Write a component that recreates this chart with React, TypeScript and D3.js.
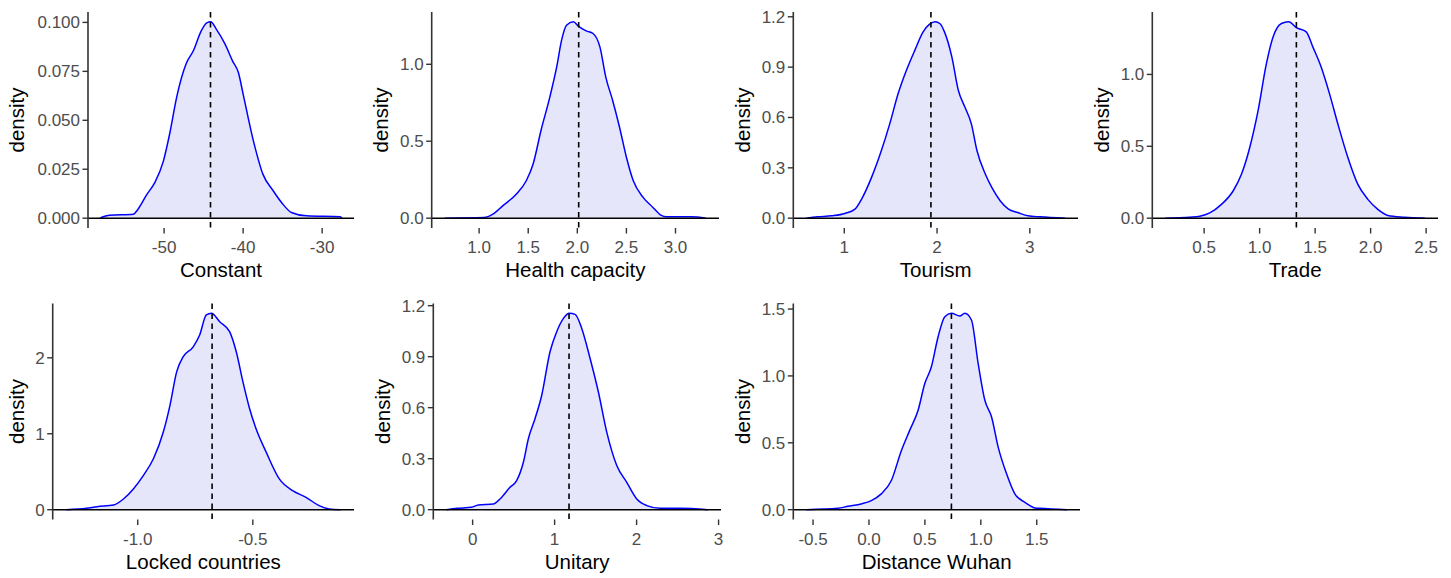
import * as d3 from 'd3';
import React from 'react';

// posterior density of each coefficient, [value, density]
const constantDensity = [[-58.1,0],[-57.7,0.0007],[-56.9,0.0015],[-53.9,0.002],[-53.3,0.0046],[-52.2,0.012],[-51.2,0.018],[-50.1,0.029],[-49.3,0.043],[-48.4,0.062],[-47.2,0.079],[-46.3,0.0855],[-45.3,0.0957],[-44.6,0.0998],[-44.1,0.1003],[-43.4,0.0966],[-42.3,0.089],[-41.3,0.080],[-40.6,0.0744],[-40.0,0.0634],[-38.7,0.0395],[-37.5,0.0225],[-36.2,0.014],[-34.9,0.0068],[-33.9,0.0029],[-32.0,0.0012],[-27.7,0.0007],[-27.5,0]];
const healthDensity = [[0.65,0],[1.05,0.004],[1.14,0.026],[1.24,0.08],[1.38,0.157],[1.48,0.243],[1.55,0.352],[1.63,0.57],[1.72,0.787],[1.79,0.983],[1.84,1.157],[1.89,1.254],[1.96,1.276],[2.01,1.248],[2.09,1.217],[2.16,1.2],[2.23,1.113],[2.29,0.917],[2.36,0.765],[2.43,0.591],[2.50,0.396],[2.57,0.243],[2.67,0.135],[2.77,0.07],[2.85,0.02],[2.91,0.009],[3.16,0.009],[3.31,0]];
const tourismDensity = [[0.59,0],[0.713,0.008],[0.864,0.014],[1.007,0.028],[1.115,0.054],[1.187,0.114],[1.294,0.243],[1.40,0.403],[1.49,0.562],[1.58,0.741],[1.67,0.881],[1.76,1.0],[1.85,1.11],[1.92,1.156],[1.98,1.17],[2.03,1.16],[2.08,1.11],[2.16,0.96],[2.23,0.761],[2.30,0.662],[2.37,0.562],[2.43,0.403],[2.52,0.263],[2.59,0.183],[2.68,0.104],[2.77,0.054],[2.87,0.034],[2.98,0.014],[3.11,0.008],[3.38,0]];
const tradeDensity = [[0.15,0],[0.371,0.007],[0.461,0.014],[0.551,0.037],[0.656,0.096],[0.761,0.189],[0.836,0.305],[0.911,0.492],[0.986,0.748],[1.061,1.075],[1.121,1.261],[1.196,1.354],[1.262,1.366],[1.331,1.326],[1.42,1.296],[1.48,1.19],[1.555,1.05],[1.63,0.865],[1.705,0.655],[1.795,0.422],[1.885,0.235],[1.975,0.131],[2.065,0.061],[2.155,0.019],[2.305,0.007],[2.49,0]];
const lockedDensity = [[-1.31,0],[-1.223,0.018],[-1.177,0.04],[-1.105,0.062],[-1.062,0.141],[-1.019,0.273],[-0.976,0.449],[-0.932,0.67],[-0.889,1.022],[-0.86,1.374],[-0.831,1.815],[-0.803,2.013],[-0.759,2.145],[-0.731,2.3],[-0.702,2.564],[-0.680,2.586],[-0.644,2.476],[-0.601,2.344],[-0.572,2.079],[-0.543,1.683],[-0.514,1.33],[-0.486,1.066],[-0.442,0.758],[-0.385,0.405],[-0.327,0.251],[-0.269,0.163],[-0.212,0.053],[-0.169,0.009],[-0.12,0]];
const unitaryDensity = [[-0.32,0],[-0.187,0.008],[-0.012,0.014],[0.069,0.028],[0.252,0.033],[0.334,0.063],[0.456,0.132],[0.537,0.171],[0.619,0.279],[0.68,0.417],[0.761,0.535],[0.843,0.673],[0.944,0.929],[1.026,1.047],[1.108,1.125],[1.18,1.155],[1.25,1.149],[1.331,1.066],[1.433,0.889],[1.534,0.692],[1.636,0.456],[1.758,0.26],[1.88,0.161],[2.002,0.063],[2.125,0.024],[2.287,0.008],[2.53,0.008],[2.87,0]];
const distanceDensity = [[-0.56,0],[-0.278,0.01],[-0.188,0.025],[-0.069,0.043],[0.021,0.068],[0.11,0.118],[0.2,0.218],[0.29,0.443],[0.364,0.593],[0.439,0.743],[0.499,0.943],[0.558,1.068],[0.618,1.293],[0.678,1.443],[0.737,1.468],[0.812,1.448],[0.857,1.468],[0.916,1.418],[0.976,1.093],[1.036,0.818],[1.096,0.693],[1.155,0.468],[1.23,0.268],[1.304,0.118],[1.394,0.055],[1.484,0.013],[1.528,0.01],[1.77,0]];

const names = ['Constant', 'Health capacity', 'Tourism', 'Trade', 'Locked countries', 'Unitary', 'Distance Wuhan'];
const densities = [constantDensity, healthDensity, tourismDensity, tradeDensity, lockedDensity, unitaryDensity, distanceDensity];
const means = [-44.13, 2.014, 1.934, 1.331, -0.677, 1.176, 0.737];
const xTicks = [[-50,-40,-30],[1,1.5,2,2.5,3],[1,2,3],[0.5,1,1.5,2,2.5],[-1,-0.5],[0,1,2,3],[-0.5,0,0.5,1,1.5]];
const yTicks = [[0,0.025,0.05,0.075,0.1],[0,0.5,1],[0,0.3,0.6,0.9,1.2],[0,0.5,1],[0,1,2],[0,0.3,0.6,0.9,1.2],[0,0.5,1,1.5]];
const xDecimals = [0, 1, 0, 1, 1, 0, 1];
const yDecimals = [3, 1, 1, 1, 0, 1, 1];

// panel boxes: left, top, right, bottom, x of the y title
const layout = [
  [88, 12, 354, 228, 18],
  [431.7, 12, 719, 228, 382],
  [793.3, 12, 1078, 228, 743.5],
  [1152.3, 12, 1438, 228, 1103],
  [52.7, 303.5, 354, 519.5, 18.3],
  [433.3, 303.5, 721, 519.5, 384],
  [793.3, 303.5, 1080, 519.5, 744],
];

const font = '"Liberation Sans", Arial, sans-serif';

const Panel = ({ i }) => {
  const [left, top, right, bottom, titleX] = layout[i];
  const data = densities[i];

  const [x0, x1] = d3.extent(data, d => d[0]);
  const pad = (x1 - x0) * 0.05;
  const x = d3.scaleLinear().domain([x0 - pad, x1 + pad]).range([left, right]);
  const yMax = d3.max(data, d => d[1]);
  const y = d3.scaleLinear().domain([-yMax * 0.05, yMax * 1.05]).range([bottom, top]);

  const area = d3.area().x(d => x(d[0])).y0(y(0)).y1(d => y(d[1])).curve(d3.curveMonotoneX);
  const line = d3.line().x(d => x(d[0])).y(d => y(d[1])).curve(d3.curveMonotoneX);

  return (
    <g>
      <path d={area(data)} fill="#E6E6FA" />
      <path d={line(data)} fill="none" stroke="#0000FF" strokeWidth={1.5} />
      <line x1={left} x2={right} y1={y(0)} y2={y(0)} stroke="#000" strokeWidth={1.5} />
      <line x1={x(means[i])} x2={x(means[i])} y1={top} y2={bottom} stroke="#000" strokeWidth={1.6} strokeDasharray="5.5,4.5" />
      <line x1={left} x2={left} y1={top} y2={bottom} stroke="#333" strokeWidth={1.6} />
      {yTicks[i].map(t => (
        <g key={'y' + t}>
          <line x1={left - 5.5} x2={left} y1={y(t)} y2={y(t)} stroke="#333" strokeWidth={1.4} />
          <text x={left - 8} y={y(t)} dy="0.35em" textAnchor="end" fontSize={17} fill="#4D4D4D">{t.toFixed(yDecimals[i])}</text>
        </g>
      ))}
      {xTicks[i].map(t => (
        <g key={'x' + t}>
          <line x1={x(t)} x2={x(t)} y1={bottom} y2={bottom + 5.5} stroke="#333" strokeWidth={1.4} />
          <text x={x(t)} y={bottom + 25} textAnchor="middle" fontSize={17} fill="#4D4D4D">{t.toFixed(xDecimals[i])}</text>
        </g>
      ))}
      <text x={(left + right) / 2} y={bottom + 49} textAnchor="middle" fontSize={20.5} fill="#000">{names[i]}</text>
      <text transform={`translate(${titleX},${(top + bottom) / 2}) rotate(-90)`} dy="0.3em" textAnchor="middle" fontSize={20.5} fill="#000">density</text>
    </g>
  );
};

const App = () => {
  return (
    <div style={{ position: 'absolute', left: 0, top: 0 }}>
      <svg width={1451} height={578} style={{ display: 'block', background: '#fff', fontFamily: font }}>
        {names.map((n, i) => <Panel key={n} i={i} />)}
      </svg>
    </div>
  );
};

export default App;
